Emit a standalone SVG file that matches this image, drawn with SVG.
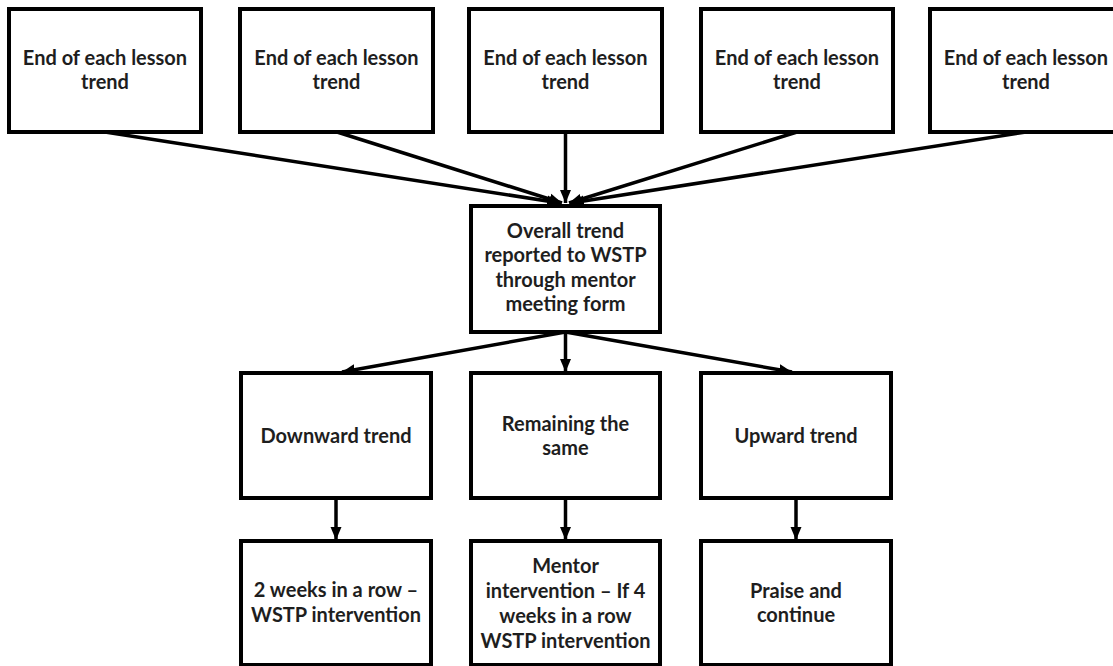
<svg xmlns="http://www.w3.org/2000/svg" width="1113" height="666" viewBox="0 0 1113 666">
  <style>
    .box { fill: #ffffff; stroke: #000000; stroke-width: 4; }
    .lbl { font-family: Lato, "Liberation Sans", sans-serif; font-weight: bold; font-size: 20px; fill: #1e1e1e; text-anchor: middle; }
    .conn { stroke: #000000; stroke-width: 3.5; fill: none; marker-end: url(#arrow); }
  </style>
  <defs>
    <marker id="arrow" markerUnits="userSpaceOnUse" markerWidth="14" markerHeight="14" viewBox="0 0 14 14" refX="13" refY="7" orient="auto">
      <path d="M0,1.5 L13,7 L0,12.5 Z" fill="#000000"/>
    </marker>
  </defs>
  <rect width="1113" height="666" fill="#ffffff"/>

  <g id="connectors">
    <line class="conn" x1="105" y1="132" x2="560" y2="203"/>
    <line class="conn" x1="337" y1="132" x2="562" y2="203"/>
    <line class="conn" x1="565.5" y1="132" x2="565.5" y2="203"/>
    <line class="conn" x1="797" y1="132" x2="569" y2="203"/>
    <line class="conn" x1="1026" y1="132" x2="571" y2="203"/>
    <line class="conn" x1="565.5" y1="332" x2="342" y2="372"/>
    <line class="conn" x1="565.5" y1="332" x2="565.5" y2="372"/>
    <line class="conn" x1="565.5" y1="332" x2="792" y2="372"/>
    <line class="conn" x1="336" y1="498" x2="336" y2="540"/>
    <line class="conn" x1="565.5" y1="498" x2="565.5" y2="540"/>
    <line class="conn" x1="796" y1="498" x2="796" y2="540"/>
  </g>

  <g id="top1">
    <rect class="box" x="9" y="9" width="192" height="123"/>
    <text class="lbl" x="105" y="65">End of each lesson</text>
    <text class="lbl" x="105" y="89">trend</text>
  </g>
  <g id="top2">
    <rect class="box" x="240" y="9" width="193" height="123"/>
    <text class="lbl" x="336.5" y="65">End of each lesson</text>
    <text class="lbl" x="336.5" y="89">trend</text>
  </g>
  <g id="top3">
    <rect class="box" x="469" y="9" width="193" height="123"/>
    <text class="lbl" x="565.5" y="65">End of each lesson</text>
    <text class="lbl" x="565.5" y="89">trend</text>
  </g>
  <g id="top4">
    <rect class="box" x="701" y="9" width="192" height="123"/>
    <text class="lbl" x="797" y="65">End of each lesson</text>
    <text class="lbl" x="797" y="89">trend</text>
  </g>
  <g id="top5">
    <rect class="box" x="930" y="9" width="192" height="123"/>
    <text class="lbl" x="1026" y="65">End of each lesson</text>
    <text class="lbl" x="1026" y="89">trend</text>
  </g>

  <g id="overall">
    <rect class="box" x="471" y="206" width="189" height="126"/>
    <text class="lbl" x="565.5" y="238">Overall trend</text>
    <text class="lbl" x="565.5" y="262">reported to WSTP</text>
    <text class="lbl" x="565.5" y="287">through mentor</text>
    <text class="lbl" x="565.5" y="311">meeting form</text>
  </g>

  <g id="downward">
    <rect class="box" x="241" y="373" width="190" height="125"/>
    <text class="lbl" x="336" y="443">Downward trend</text>
  </g>
  <g id="same">
    <rect class="box" x="471" y="373" width="189" height="125"/>
    <text class="lbl" x="565.5" y="431">Remaining the</text>
    <text class="lbl" x="565.5" y="455">same</text>
  </g>
  <g id="upward">
    <rect class="box" x="701" y="373" width="190" height="125"/>
    <text class="lbl" x="796" y="443">Upward trend</text>
  </g>

  <g id="twoweeks">
    <rect class="box" x="241" y="541" width="190" height="124"/>
    <text class="lbl" x="336" y="597">2 weeks in a row –</text>
    <text class="lbl" x="336" y="622">WSTP intervention</text>
  </g>
  <g id="mentor">
    <rect class="box" x="471" y="541" width="189" height="124"/>
    <text class="lbl" x="565.5" y="573">Mentor</text>
    <text class="lbl" x="565.5" y="598">intervention – If 4</text>
    <text class="lbl" x="565.5" y="623">weeks in a row</text>
    <text class="lbl" x="565.5" y="648">WSTP intervention</text>
  </g>
  <g id="praise">
    <rect class="box" x="701" y="541" width="190" height="124"/>
    <text class="lbl" x="796" y="598">Praise and</text>
    <text class="lbl" x="796" y="622">continue</text>
  </g>
</svg>
